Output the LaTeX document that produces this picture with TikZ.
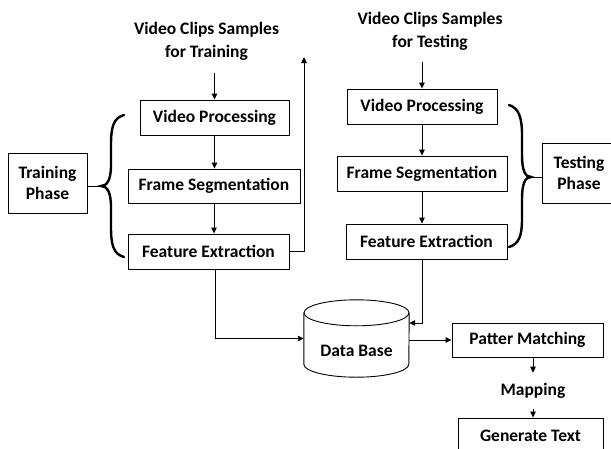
\documentclass[tikz,border=0pt]{standalone}
\usepackage{fontspec}
\setmainfont{Carlito}
\usetikzlibrary{arrows.meta,calc}
\begin{document}
\begin{tikzpicture}[x=1pt,y=-1pt,
  font=\fontsize{17.5}{21}\selectfont\bfseries,
  box/.style={draw, line width=0.9pt, inner sep=0pt, anchor=center},
  arr/.style={-{Triangle[length=6pt,width=5.5pt]}, line width=0.9pt},
  ln/.style={line width=0.9pt},
  brc/.style={line width=2.4pt, line cap=round},
  hdr/.style={align=center, font=\fontsize{17.5}{23}\selectfont\bfseries, inner sep=0pt}]
\fill[white] (0,0) rectangle (611,448);
\useasboundingbox (0,0) rectangle (611,448);

% headers
\node[hdr] (ltext) at (206.5,41.5) {Video Clips Samples\\for Training};
\node[hdr] (rtext) at (430,31.5) {Video Clips Samples\\for Testing};

% left column
\node[box, minimum width=149pt, minimum height=35pt] (lvp) at (214.5,117.5) {Video Processing};
\node[box, minimum width=172pt, minimum height=34pt] (lfs) at (214,186) {Frame Segmentation};
\node[box, minimum width=161pt, minimum height=35pt] (lfe) at (208.5,251.5) {Feature Extraction};

% right column
\node[box, minimum width=150pt, minimum height=35pt] (rvp) at (422,106.5) {Video Processing};
\node[box, minimum width=170pt, minimum height=35pt] (rfs) at (422,173.5) {Frame Segmentation};
\node[box, minimum width=161pt, minimum height=35pt] (rfe) at (426.5,241.5) {Feature Extraction};

% phases
\node[box, minimum width=79pt, minimum height=60pt, align=center] (tp) at (47.5,183) {Training\\Phase};
\node[box, minimum width=74pt, minimum height=60pt, align=center] (sp) at (579,173) {Testing\\Phase};

% database
\node[minimum width=105pt, minimum height=77pt, inner sep=0pt] (db) at (356.5,338.5) {};
\draw[ln] ([yshift=-13pt]db.north) ellipse [x radius=52.5pt, y radius=13pt];
\draw[ln] ([yshift=-13pt]db.north west) -- ([yshift=13pt]db.south west)
  arc[start angle=180, end angle=360, x radius=52.5pt, y radius=13pt]
  -- ([yshift=-13pt]db.north east);
\node[inner sep=0pt] (dbl) at (356.5,351) {Data Base};

% output chain
\node[box, minimum width=151pt, minimum height=34pt] (pm) at (527.5,340) {Patter Matching};
\node[inner xsep=0pt, inner ysep=10.5pt] (map) at (533,391) {Mapping};
\node[box, minimum width=145pt, minimum height=36pt] (gt) at (530.5,436) {Generate Text};

% arrows left
\draw[arr] ([yshift=27pt]lvp.north) -- (lvp.north);
\draw[arr] (lvp.south) -- (lvp.south |- lfs.north);
\draw[arr] (lfs.south) -- (lfs.south |- lfe.north);
\coordinate (fbtop) at (304,57);
\draw[arr] (lfe.east) -| (fbtop);
\draw[arr] ([xshift=6.5pt]lfe.south) |- (db.west);

% arrows right
\draw[arr] ([yshift=27pt]rvp.north) -- (rvp.north);
\draw[arr] (rvp.south) -- (rvp.south |- rfs.north);
\draw[arr] (rfs.south) -- (rfs.south |- rfe.north);
\draw[arr] (rfs.south |- rfe.south) |- ([yshift=15.5pt]db.east);

\draw[arr] (db.east |- pm.west) -- (pm.west);
\draw[arr] (map.north |- pm.south) -- (map.north);
\draw[arr] (map.south) -- (map.south |- gt.north);

% braces
\coordinate (ltip) at (101,186);
\draw[brc] (124,115) .. controls (113,118) and (111,128) .. (111,145) -- (111,165)
  .. controls (111,180) and (107,186) .. (ltip)
  .. controls (107,186) and (111,192) .. (111,207) -- (111,227)
  .. controls (111,244) and (113,254) .. (124,257);
\draw[ln] (ltip -| tp.east) -- (ltip);

\coordinate (rtip) at (531,177);
\draw[brc] (509,105) .. controls (519,108) and (522,118) .. (522,135) -- (522,155)
  .. controls (522,170) and (525,177) .. (rtip)
  .. controls (525,177) and (522,184) .. (522,199) -- (522,219)
  .. controls (522,236) and (519,244) .. (509,247);
\draw[ln] (rtip) -- (rtip -| sp.west);
\end{tikzpicture}
\end{document}
